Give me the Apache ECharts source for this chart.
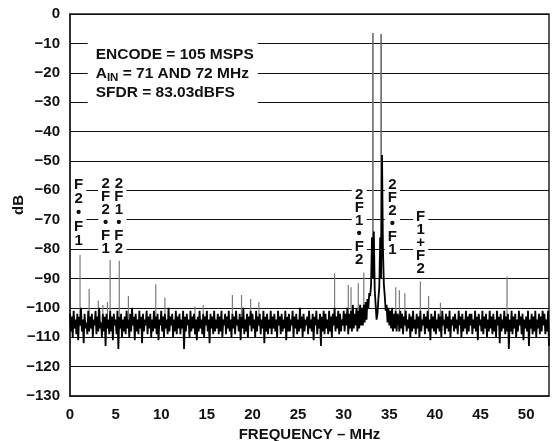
<!DOCTYPE html>
<html><head><meta charset="utf-8">
<script src="https://cdn.jsdelivr.net/npm/echarts@6/dist/echarts.min.js"></script>
<style>html,body{margin:0;padding:0;background:#fff}#c{width:553px;height:441px}</style>
</head><body><div id="c"></div>
<script>
// FFT bin spacing (MHz) of the plotted spectrum
const binStep = 0.1;
// Noise floor / skirt level per bin (dB), bins 0 .. 52.5 MHz
const floorDb = [
-102,-108,-103,-110,-101,-107,-104,-109,-102,-111,-103,-106,-100,-108,-104,-112,-102,-107,-105,-109,
-101,-108,-103,-107,-102,-110,-104,-106,-101,-109,-103,-108,-100,-107,-105,-110,-102,-108,-103,-113,
-102,-107,-104,-109,-101,-108,-103,-111,-102,-106,-104,-109,-101,-114,-103,-107,-102,-110,-104,-108,
-103,-109,-101,-107,-104,-110,-102,-108,-100,-106,-103,-111,-102,-108,-104,-109,-101,-107,-103,-112,
-102,-108,-104,-106,-101,-109,-103,-107,-102,-110,-104,-108,-101,-107,-103,-109,-102,-111,-104,-106,
-101,-108,-103,-110,-102,-107,-104,-109,-100,-108,-103,-106,-102,-110,-104,-108,-101,-109,-103,-107,
-102,-109,-104,-107,-101,-114,-103,-108,-102,-106,-104,-110,-101,-108,-103,-107,-102,-109,-104,-111,
-103,-108,-101,-107,-104,-109,-102,-110,-103,-106,-101,-108,-104,-112,-102,-107,-103,-109,-101,-108,
-104,-107,-102,-109,-103,-108,-101,-110,-104,-106,-102,-109,-103,-107,-101,-108,-104,-110,-102,-107,
-103,-109,-101,-106,-104,-108,-102,-111,-103,-107,-100,-109,-104,-108,-102,-110,-103,-106,-101,-108,
-102,-107,-104,-110,-101,-108,-103,-106,-102,-109,-104,-107,-101,-112,-103,-108,-102,-109,-104,-107,
-101,-109,-103,-107,-102,-108,-104,-110,-101,-106,-103,-109,-102,-108,-104,-107,-101,-111,-103,-108,
-102,-108,-104,-106,-101,-110,-103,-107,-102,-109,-104,-108,-100,-107,-103,-110,-102,-108,-104,-106,
-103,-109,-101,-107,-104,-108,-102,-111,-103,-106,-101,-109,-104,-107,-102,-113,-103,-108,-101,-109,
-102,-107,-104,-109,-101,-108,-103,-110,-102,-106,-100,-108,-103,-107,-101,-109,-102,-108,-104,-106,
-101,-108,-102,-106,-100,-109,-102,-107,-101,-108,-99,-107,-102,-106,-100,-108,-101,-107,-99,-106,
-100,-106,-99,-105,-98,-104,-97,-100,-95,-96,-92,-76,-90,-74,-94,-99,-104,-102,-97,-93,
-76,-90,-48,-80,-92,-96,-101,-99,-105,-100,-106,-101,-107,-100,-108,-102,-107,-101,-108,-102,
-103,-108,-101,-107,-102,-109,-103,-106,-101,-108,-104,-107,-102,-110,-103,-108,-101,-107,-104,-109,
-102,-107,-103,-110,-101,-108,-104,-106,-102,-109,-103,-107,-101,-108,-104,-111,-102,-107,-103,-108,
-101,-109,-104,-107,-102,-108,-103,-110,-101,-106,-104,-109,-102,-107,-103,-108,-101,-110,-104,-106,
-103,-108,-102,-107,-104,-109,-101,-106,-103,-110,-102,-108,-104,-107,-101,-109,-103,-108,-102,-106,
-102,-109,-104,-107,-101,-108,-103,-111,-102,-106,-104,-108,-101,-109,-103,-107,-102,-110,-104,-108,
-101,-107,-103,-109,-102,-108,-104,-110,-101,-106,-103,-112,-102,-108,-104,-107,-101,-109,-103,-108,
-102,-114,-104,-108,-101,-109,-103,-107,-102,-110,-104,-108,-101,-106,-103,-109,-102,-111,-104,-107,
-103,-108,-101,-113,-104,-107,-102,-109,-103,-108,-101,-110,-104,-107,-102,-109,-103,-108,-101,-106,
-102,-109,-104,-108,-101,-113
];
// Spurs (MHz, dB)
const spurFreq = [1.1, 2.1, 3.1, 3.6, 4.1, 4.4, 5.4, 6.4, 9.4, 10.4, 13.7, 14.6, 17.8, 18.8, 19.8, 20.7,
                  29.0, 30.5, 30.8, 31.6, 32.2, 35.7, 36.1, 36.7, 38.4, 39.3, 40.6, 47.9];
const spurDb   = [-82, -93.5, -97.5, -99, -98, -83.7, -84, -96, -92, -96.5, -99.5, -99, -95.6, -95.6, -97, -98,
                  -88.2, -92.2, -93, -91.6, -88, -93, -94, -95, -91, -96, -98.3, -89.3];
// Fundamental tones (MHz, dB)
const toneFreq = [33.2, 34.1];
const toneDb   = [-6.5, -6.8];
// Axis ticks
const xTicks = [0, 5, 10, 15, 20, 25, 30, 35, 40, 45, 50];
const yTicks = [0, -10, -20, -30, -40, -50, -60, -70, -80, -90, -100, -110, -120, -130];

const binOf = f => Math.round(f / binStep);
const floorData = floorDb.map((v, i) => [Math.round(i * binStep * 10) / 10, v]);
const spikes = (freqs, dbs) => {
  const out = [];
  freqs.forEach((f, i) => { out.push([f, floorDb[binOf(f)]], [f, dbs[i]], [f, '-']); });
  return out;
};
const spurData = spikes(spurFreq, spurDb);
const toneData = spikes(toneFreq, toneDb);

const FF = "'Liberation Sans', Arial, Helvetica, sans-serif";
const colLabel = (txt, lh) => ({
  show: true, position: 'inside', formatter: txt, color: '#111', fontFamily: FF,
  fontWeight: 'bold', fontSize: 15, lineHeight: lh, backgroundColor: '#fff', padding: [1, 3]
});
const annotations = [
  { coord: [0.95, -67.7], label: colLabel('F\n2\n•\nF\n1', 14) },
  { coord: [3.91, -68.9], label: colLabel('2\nF\n2\n•\nF\n1', 13) },
  { coord: [5.35, -68.9], label: colLabel('2\nF\n1\n•\nF\n2', 13) },
  { coord: [31.7, -72.5], label: colLabel('2\nF\n1\n•\nF\n2', 13) },
  { coord: [35.34, -69.1], label: colLabel('2\nF\n2\n•\nF\n1', 13) },
  { coord: [38.43, -78], label: colLabel('F\n1\n+\nF\n2', 13) },
  { coord: [1.94, -19.9], label: {
      show: true, position: 'right', distance: 0,
      formatter: '{t|ENCODE = 105 MSPS}\n{t|A}{s|IN}{t| = 71 AND 72 MHz}\n{t|SFDR = 83.03dBFS}',
      backgroundColor: '#fff', padding: [4, 4, 1, 8],
      rich: {
        t: { fontSize: 15.5, fontWeight: 'bold', lineHeight: 19, color: '#111', fontFamily: FF },
        s: { fontSize: 11.5, fontWeight: 'bold', lineHeight: 19, color: '#111', fontFamily: FF, verticalAlign: 'bottom' }
      } } }
];

const chart = echarts.init(document.getElementById('c'), null, { renderer: 'canvas' });
chart.setOption({
  animation: false,
  backgroundColor: '#fff',
  grid: { left: 70, right: 4, top: 14, bottom: 45, containLabel: false, outerBoundsMode: 'none',
          show: true, borderColor: '#222', borderWidth: 1.5, backgroundColor: 'transparent' },
  xAxis: {
    type: 'value', min: 0, max: 52.5, interval: 5,
    axisLine: { show: true, onZero: false, lineStyle: { color: '#222', width: 1.5 } },
    axisTick: { show: false }, splitLine: { show: false },
    axisLabel: { color: '#111', fontWeight: 'bold', fontSize: 15, fontFamily: FF, margin: 11,
      formatter: v => xTicks.indexOf(v) >= 0 ? String(v) : '' },
    name: 'FREQUENCY – MHz', nameLocation: 'middle', nameGap: 31,
    nameTextStyle: { color: '#111', fontWeight: 'bold', fontSize: 15, fontFamily: FF }
  },
  yAxis: {
    type: 'value', min: -130, max: 0, interval: 10,
    axisLine: { show: true, lineStyle: { color: '#222', width: 1.5 } },
    axisTick: { show: false },
    splitLine: { show: true, lineStyle: { color: '#111', width: 1 } },
    axisLabel: { color: '#111', fontWeight: 'bold', fontSize: 15, fontFamily: FF, margin: 10,
      formatter: v => yTicks.indexOf(v) >= 0 ? (v === 0 ? '0' : '\u2212' + Math.abs(v)) : '' },
    name: 'dB', nameLocation: 'middle', nameGap: 44, nameRotate: 90, nameMoveOverlap: false,
    nameTextStyle: { color: '#111', fontWeight: 'bold', fontSize: 15, fontFamily: FF }
  },
  series: [
    { type: 'line', data: spurData, showSymbol: false, symbol: 'none', connectNulls: false, z: 2,
      lineStyle: { color: '#7a7a7a', width: 1.2 } },
    { type: 'line', data: toneData, showSymbol: false, symbol: 'none', connectNulls: false, z: 2,
      lineStyle: { color: '#6a6a6a', width: 1.6 } },
    { type: 'line', data: floorData, showSymbol: false, symbol: 'none', sampling: null, z: 3,
      lineStyle: { color: '#000', width: 1.8 },
      markPoint: { symbol: 'rect', symbolSize: 0, silent: true, data: annotations } }
  ]
});
</script></body></html>
